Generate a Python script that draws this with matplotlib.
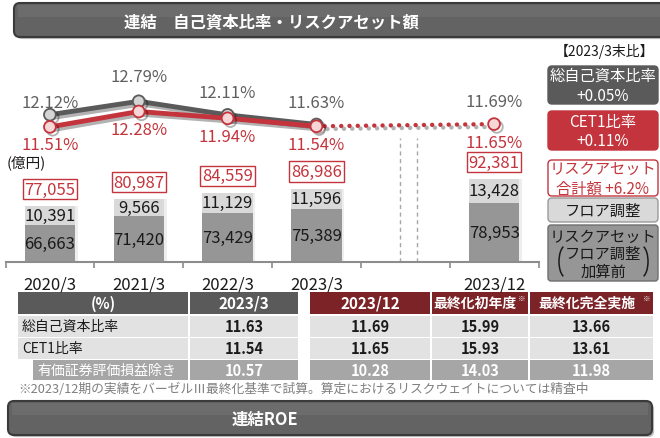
import matplotlib
matplotlib.use('Agg')
import matplotlib.pyplot as plt
import matplotlib.patheffects as pe
from matplotlib.patches import FancyBboxPatch, Rectangle, Arc
import numpy as np

plt.rcParams['font.family'] = ['Noto Sans CJK JP', 'DejaVu Sans']

# ~~~ data ~~~
periods = ['2020/3', '2021/3', '2022/3', '2023/3', '2023/12']
x_pos = [0, 1, 2, 3, 5]
rwa_base = [66663, 71420, 73429, 75389, 78953]    # リスクアセット(フロア調整加算前)
rwa_floor = [10391, 9566, 11129, 11596, 13428]    # フロア調整
rwa_total = [77055, 80987, 84559, 86986, 92381]   # リスクアセット合計額
total_ratio = [12.12, 12.79, 12.11, 11.63, 11.69]  # 総自己資本比率 (%)
cet1_ratio = [11.51, 12.28, 11.94, 11.54, 11.65]   # CET1比率 (%)

table_cols = ['2023/3', '2023/12', '最終化初年度', '最終化完全実施']
table_rows = ['総自己資本比率', 'CET1比率', '有価証券評価損益除き']
table_vals = [[11.63, 11.69, 15.99, 13.66],
              [11.54, 11.65, 15.93, 13.61],
              [10.57, 10.28, 14.03, 11.98]]

legend_texts = ['総自己資本比率\n+0.05%', 'CET1比率\n+0.11%',
                'リスクアセット\n合計額 +6.2%', 'フロア調整']

# ~~~ colours ~~~
RED = '#c4343c'
DRED = '#7b2327'
GRAY = '#5a5a5a'
BAR_DARK = '#969696'
BAR_LIGHT = '#d9d9d9'

W, H = 660, 439
fig = plt.figure(figsize=(W / 100, H / 100), dpi=100)


def fa(l, t, r, b):
    """pixel box (left, top, right, bottom) -> figure fraction rect"""
    return [l / W, 1 - b / H, (r - l) / W, (b - t) / H]


# background / decoration axes in pixel coords
bg = fig.add_axes([0, 0, 1, 1])
bg.set_xlim(0, W)
bg.set_ylim(H, 0)
bg.axis('off')

# ~~~ title bars ~~~
for (x0, y0, w, h, txt, tx) in [(14, 4, 660, 34, '連結　自己資本比率・リスクアセット額', 271),
                                 (8, 402, 644, 34, '連結ROE', 265)]:
    bg.add_patch(FancyBboxPatch((x0, y0), w, h, boxstyle='round,pad=0,rounding_size=6',
                                fc='#636363', ec='#3a3a3a', lw=1.5,
                                path_effects=[pe.SimplePatchShadow(offset=(1.5, -1.5), alpha=0.3),
                                              pe.Normal()]))
    bg.add_patch(Rectangle((x0 + 4, y0 + 2), w - 8, h * 0.35, fc='white', alpha=0.06, lw=0))
    bg.text(tx, y0 + h / 2 + 1, txt, color='white', fontsize=11.8, fontweight='bold',
            ha='center', va='center')

# ~~~ chart ~~~
ax = fig.add_axes(fa(5.5, 60, 538.5, 263))
ax.set_zorder(2)
ax.patch.set_visible(False)
ax.set_xlim(-0.5, 5.5)
ybase = 45500
ax.set_ylim(ybase, ybase + 203 * 565)

shadow = [pe.SimplePatchShadow(offset=(2, 0), shadow_rgbFace='#aaaaaa', alpha=0.2), pe.Normal()]
ax.bar(x_pos, rwa_base, width=0.565, color=BAR_DARK, path_effects=shadow, zorder=2)
ax.bar(x_pos, rwa_floor, bottom=rwa_base, width=0.565, color=BAR_LIGHT,
       path_effects=shadow, zorder=2)

for x, b, f, t in zip(x_pos, rwa_base, rwa_floor, rwa_total):
    ax.text(x, (ybase + b) / 2, f'{b:,}', ha='center', va='center', fontsize=12,
            color='#1a1a1a', zorder=3)
    ax.text(x, b + f / 2, f'{f:,}', ha='center', va='center', fontsize=12,
            color='#1a1a1a', zorder=3)
    ax.annotate(f'{t:,}', (x, t), xytext=(0, 17), textcoords='offset pixels',
                ha='center', va='center', fontsize=12, color=RED, zorder=3,
                bbox=dict(boxstyle='square,pad=0.1', fc='white', ec=RED, lw=1))

for s in ['top', 'left', 'right']:
    ax.spines[s].set_visible(False)
ax.spines['bottom'].set_color('#8c8c8c')
ax.spines['bottom'].set_linewidth(1.5)
ax.set_yticks([])
ax.set_xticks(x_pos, periods, fontsize=12, color='#1a1a1a')
ax.tick_params(axis='x', which='major', length=0, pad=10)
ax.set_xticks(np.arange(-0.5, 6, 1.0), minor=True)
ax.tick_params(axis='x', which='minor', length=4, width=1.2, color='#8c8c8c')

# break between 2023/3 and 2023/12
ax.vlines([3.94, 4.13], 0, 0.61, transform=ax.get_xaxis_transform(),
          colors='#a8a8a8', linestyles=(0, (3, 2.5)), lw=1)

bg.text(7, 163, '(億円)', fontsize=10.5, ha='left', va='center', color='#1a1a1a')

# ratios on twin axis
ax2 = ax.twinx()
ax2.set_zorder(3)
ax2.patch.set_visible(False)
ax2.set_ylim(12.79 - (263 - 102.3) / 20, 12.79 + (102.3 - 60) / 20)
ax2.set_yticks([])
for s in ['top', 'left', 'right', 'bottom']:
    ax2.spines[s].set_visible(False)

lshadow = [pe.SimpleLineShadow(offset=(2, -2), alpha=0.3), pe.Normal()]
ax2.plot(x_pos[:4], total_ratio[:4], color=GRAY, lw=3.5, marker='o', ms=8.5,
         mfc='#d4d4d4', mec=GRAY, mew=1.3, path_effects=lshadow, zorder=4)
ax2.plot(x_pos[:4], cet1_ratio[:4], color=RED, lw=3.5, marker='o', ms=8.5,
         mfc='#f7d6d8', mec=RED, mew=1.3, path_effects=lshadow, zorder=5)
ax2.plot(x_pos[3:], cet1_ratio[3:], color=RED, lw=3.2, linestyle=(0, (0.01, 1.85)),
         dash_capstyle='round', path_effects=lshadow, zorder=4)
ax2.plot(x_pos[4:], cet1_ratio[4:], 'o', ms=8.5, mfc='#f7d6d8', mec=RED, mew=1.3,
         path_effects=lshadow, zorder=5)

gray_off = [12, 25, 22, 22, 22]
for x, v, o in zip(x_pos, total_ratio, gray_off):
    ax2.annotate(f'{v:.2f}%', (x, v), xytext=(0, o), textcoords='offset pixels',
                 ha='center', va='center', fontsize=12, color='#606060')
for x, v in zip(x_pos, cet1_ratio):
    ax2.annotate(f'{v:.2f}%', (x, v), xytext=(0, -18), textcoords='offset pixels',
                 ha='center', va='center', fontsize=12, color=RED)

# ~~~ right-hand legend boxes ~~~
bg.text(604, 51, '【2023/3末比】', fontsize=10, ha='center', va='center', color='#1a1a1a')
box_specs = [(67, 105, GRAY, GRAY, 'white'),
             (112, 151, RED, RED, 'white'),
             (161, 197, 'white', RED, RED),
             (199, 223, BAR_LIGHT, '#9a9a9a', '#1a1a1a')]
for (t, b, fc, ec, tc), txt in zip(box_specs, legend_texts):
    bg.add_patch(FancyBboxPatch((548, t), 110, b - t, boxstyle='round,pad=0,rounding_size=4',
                                fc=fc, ec=ec, lw=1))
    bg.text(603, (t + b) / 2 + 0.5, txt, fontsize=11, ha='center', va='center', color=tc,
            linespacing=1.2)

bg.add_patch(FancyBboxPatch((548, 226), 110, 56, boxstyle='round,pad=0,rounding_size=3',
                            fc=BAR_DARK, ec='#6e6e6e', lw=1))
bg.text(603, 237, 'リスクアセット', fontsize=11, ha='center', va='center', color='#1a1a1a')
bg.text(603, 254.5, 'フロア調整', fontsize=11, ha='center', va='center', color='#1a1a1a')
bg.text(603, 272, '加算前', fontsize=11, ha='center', va='center', color='#1a1a1a')
bg.add_patch(Arc((566, 262.5), 14, 32, theta1=100, theta2=260, color='#1a1a1a', lw=1.1))
bg.add_patch(Arc((641, 262.5), 14, 32, theta1=-80, theta2=80, color='#1a1a1a', lw=1.1))

# ~~~ table ~~~
col_x = [(190, 298), (310, 430), (432, 528), (530, 653)]
row_y = [(316.5, 337.5), (338.5, 359.5), (361, 381)]
head_y = (293, 315)

bg.add_patch(Rectangle((18, head_y[0]), 170, head_y[1] - head_y[0], fc=GRAY, lw=0))
bg.text(103, 304, '(%)', fontsize=10.5, fontweight='bold', color='white',
        ha='center', va='center')
for i, ((l, r), name) in enumerate(zip(col_x, table_cols)):
    bg.add_patch(Rectangle((l, head_y[0]), r - l, head_y[1] - head_y[0],
                           fc=GRAY if i == 0 else DRED, lw=0))
    if i < 2:
        bg.text((l + r) / 2, 304, name, fontsize=11, fontweight='bold', color='white',
                ha='center', va='center')
    else:
        bg.text((l + r) / 2 - 5, 304, name, fontsize=10, fontweight='bold',
                color='white', ha='center', va='center')
        bg.text(r - 6, 299, '※', fontsize=5.5, color='white', ha='center', va='center')

for j, ((t, b), name) in enumerate(zip(row_y, table_rows)):
    last = j == len(table_rows) - 1
    fc = '#a6a6a6' if last else '#e2e2e2'
    tc = 'white' if last else '#1a1a1a'
    lx = 33 if last else 18
    bg.add_patch(Rectangle((lx, t), 188 - lx, b - t, fc=fc, lw=0))
    bg.text(lx + 4, (t + b) / 2, name, fontsize=10, color=tc, ha='left', va='center')
    for (l, r), v in zip(col_x, table_vals[j]):
        bg.add_patch(Rectangle((l, t), r - l, b - t, fc=fc, lw=0))
        bg.text((l + r) / 2, (t + b) / 2, f'{v:.2f}', fontsize=10.5, fontweight='bold',
                color=tc, ha='center', va='center')

bg.text(18, 389, '※2023/12期の実績をバーゼルⅢ最終化基準で試算。算定におけるリスクウェイトについては精査中',
        fontsize=9.2, color='#7f7f7f', ha='left', va='center')

fig.savefig('out.png', dpi=100)
